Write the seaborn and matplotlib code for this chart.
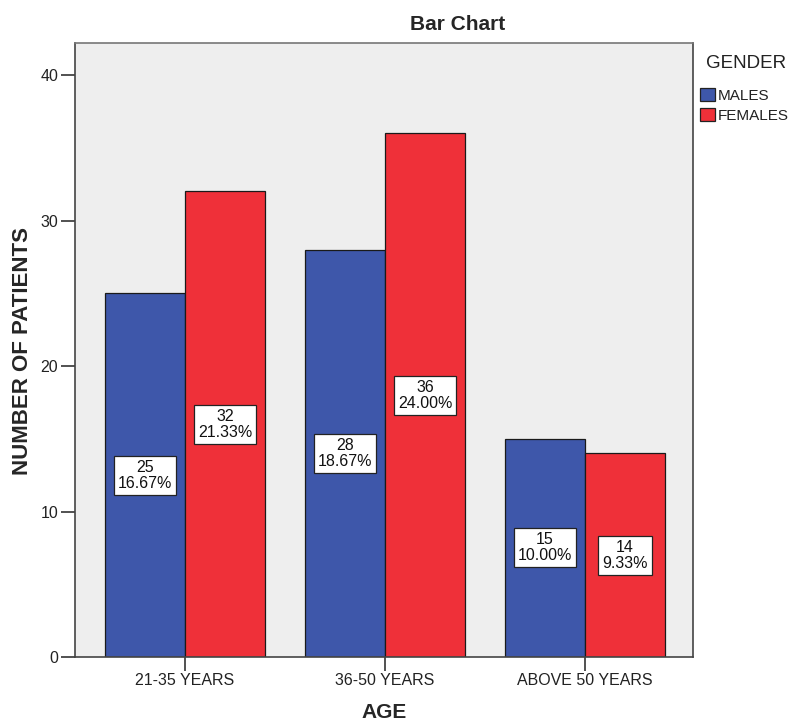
import matplotlib
matplotlib.use("Agg")
import matplotlib.pyplot as plt
import seaborn as sns
import pandas as pd
from matplotlib.patches import Patch

age_groups = ["21-35 YEARS", "36-50 YEARS", "ABOVE 50 YEARS"]
genders = ["MALES", "FEMALES"]
males = [25, 28, 15]
females = [32, 36, 14]
males_pct = ["16.67%", "18.67%", "10.00%"]
females_pct = ["21.33%", "24.00%", "9.33%"]
yticks = [0, 10, 20, 30, 40]

rows = []
for i, a in enumerate(age_groups):
    rows.append({"AGE": a, "GENDER": "MALES", "N": males[i], "PCT": males_pct[i]})
    rows.append({"AGE": a, "GENDER": "FEMALES", "N": females[i], "PCT": females_pct[i]})
df = pd.DataFrame(rows)

sns.set_style("ticks")
plt.rcParams["font.family"] = ["Liberation Sans", "DejaVu Sans"]

colors = {"MALES": "#3E57AA", "FEMALES": "#EF3039"}

fig = plt.figure(figsize=(7.9, 7.24), dpi=100)
ax = fig.add_axes([75 / 790, 1 - 657 / 724, (693 - 75) / 790, (657 - 43) / 724])
ax.set_facecolor("#EEEEEE")

sns.barplot(data=df, x="AGE", y="N", hue="GENDER", hue_order=genders,
            order=age_groups, palette=colors, width=0.8, saturation=1, ax=ax,
            edgecolor="#1a1a1a", linewidth=0.9, legend=False)

# labels
for cont, g in zip(ax.containers, genders):
    sub = df[df.GENDER == g].set_index("AGE").loc[age_groups]
    for bar, (n, p) in zip(cont, zip(sub.N, sub.PCT)):
        cx = bar.get_x() + bar.get_width() / 2
        ax.text(cx, bar.get_height() / 2, f"{n}\n{p}", ha="center", va="center",
                fontsize=11.5, color="#111111", linespacing=1.1,
                bbox=dict(boxstyle="square,pad=0.25", fc="white", ec="#222222", lw=0.9))

ax.set_xlim(-0.55, 2.54)
ax.set_ylim(0, 42.2)
ax.set_yticks(yticks)
ax.set_yticklabels([str(t) for t in yticks])
ax.tick_params(axis="both", direction="out", length=10, width=1.2, color="#333333",
               labelsize=11.5, labelcolor="#222222")
ax.tick_params(axis="y", pad=2)
ax.tick_params(axis="x", pad=1.5)
for s in ax.spines.values():
    s.set_visible(True)
    s.set_color("#444444")
    s.set_linewidth(1.2)
ax.spines["top"].set_color("#777777")

ax.set_xlabel("")
ax.set_ylabel("")
fig.text(384 / 790, 1 - 713 / 724, "AGE", ha="center", va="center",
         fontsize=15, fontweight="bold")
fig.text(23 / 790, 1 - 351 / 724, "NUMBER OF PATIENTS", ha="center", va="center",
         rotation=90, fontsize=16, fontweight="bold")
fig.text(458 / 790, 1 - 25 / 724, "Bar Chart", ha="center", va="center",
         fontsize=15, fontweight="bold")

fig.text(706 / 790, 1 - 64 / 724, "GENDER", ha="left", va="center",
         fontsize=13.5, color="#222222")
handles = [Patch(facecolor=colors[g], edgecolor="#222222", lw=0.9) for g in genders]
leg = fig.legend(handles, genders, loc="upper left", bbox_to_anchor=(700 / 790, 1 - 88 / 724),
                 frameon=False, fontsize=11, handlelength=1.0, handleheight=0.95,
                 handletextpad=0.15, labelspacing=0.32, borderaxespad=0, borderpad=0)
for t in leg.get_texts():
    t.set_color("#222222")

fig.savefig("out.png", dpi=100, facecolor="white")
